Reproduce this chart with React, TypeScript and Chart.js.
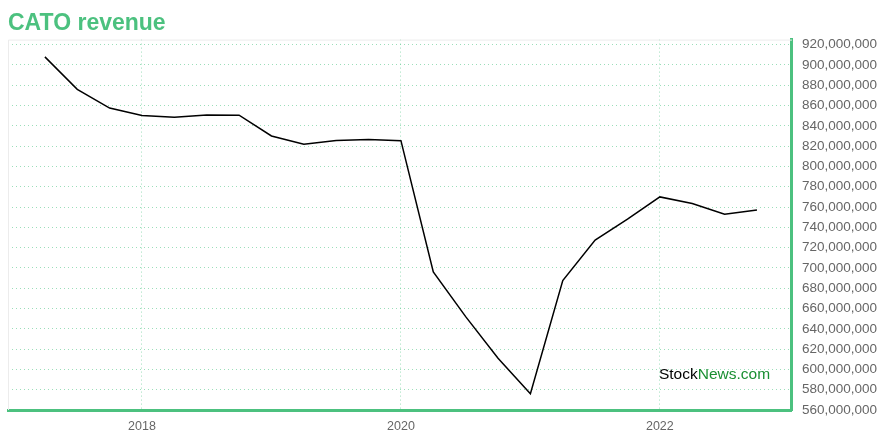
import React, { useEffect, useRef } from "react";
import { Chart, registerables } from "chart.js";

Chart.register(...registerables);

// Quarter-end dates as decimal years
const quarters: number[] = [
  2017.25, 2017.5, 2017.75, 2018.0, 2018.25, 2018.5, 2018.75, 2019.0,
  2019.25, 2019.5, 2019.75, 2020.0, 2020.25, 2020.5, 2020.75, 2021.0,
  2021.25, 2021.5, 2021.75, 2022.0, 2022.25, 2022.5, 2022.75,
];

// Revenue (trailing), in USD
const revenue: number[] = [
  908e6, 876e6, 857.5e6, 850.3e6, 848.4e6, 850.6e6, 850.5e6, 830e6,
  822e6, 825.5e6, 826.5e6, 825.4e6, 696e6, 652e6, 611e6, 576e6,
  687.5e6, 727.5e6, 748e6, 770e6, 763.5e6, 753e6, 757e6,
];

const xTickYears: number[] = [2018, 2020, 2022];
const title = "CATO revenue";

const GREEN = "#4cc17f";
const GRID = "rgba(90,200,140,0.6)";
const FONT = "'Liberation Sans', Arial, sans-serif";

const watermark = {
  id: "watermark",
  afterDraw(chart: any) {
    const { ctx, chartArea } = chart;
    ctx.save();
    ctx.strokeStyle = "#ececec";
    ctx.lineWidth = 1;
    ctx.beginPath();
    ctx.moveTo(chartArea.left + 0.5, chartArea.bottom);
    ctx.lineTo(chartArea.left + 0.5, chartArea.top + 0.5);
    ctx.lineTo(chartArea.right, chartArea.top + 0.5);
    ctx.stroke();
    ctx.font = "15.5px " + FONT;
    ctx.textBaseline = "alphabetic";
    ctx.textAlign = "left";
    const x0 = chartArea.right - 133;
    const y0 = chartArea.bottom - 31;
    ctx.fillStyle = "#000000";
    ctx.fillText("Stock", x0, y0);
    const w = ctx.measureText("Stock").width;
    ctx.fillStyle = "#1a8f32";
    ctx.fillText("News.com", x0 + w, y0);
    ctx.restore();
  },
};

export default function App() {
  const ref = useRef<HTMLCanvasElement | null>(null);

  useEffect(() => {
    if (!ref.current) return;
    const chart = new Chart(ref.current, {
      type: "line",
      data: {
        datasets: [
          {
            data: quarters.map((q, i) => ({ x: q, y: revenue[i] })),
            borderColor: "#000000",
            borderWidth: 1.5,
            pointRadius: 0,
            tension: 0,
            fill: false,
          },
        ],
      },
      options: {
        animation: false,
        responsive: true,
        maintainAspectRatio: false,
        layout: { padding: { left: 8, right: -7, top: 10, bottom: -3 } },
        plugins: {
          legend: { display: false },
          tooltip: { enabled: false },
          title: {
            display: true,
            text: title,
            align: "start",
            color: GREEN,
            font: { size: 23, weight: "bold", family: FONT },
            padding: { top: 0, bottom: 2 },
          },
        },
        scales: {
          x: {
            type: "linear",
            min: 2016.965,
            max: 2023.02,
            afterBuildTicks: (axis: any) => {
              axis.ticks = xTickYears.map((v) => ({ value: v }));
            },
            ticks: {
              color: "#666666",
              font: { size: 12.5, family: FONT },
              padding: 9,
              maxRotation: 0,
              callback: (v: any) => String(v),
            },
            grid: { color: GRID, drawTicks: false },
            border: { color: GREEN, width: 3, dash: [1, 3] },
          },
          y: {
            position: "right",
            min: 560e6,
            max: 925e6,
            afterBuildTicks: (axis: any) => {
              const t: any[] = [];
              for (let v = 560e6; v <= 920e6; v += 20e6) t.push({ value: v });
              axis.ticks = t;
            },
            ticks: {
              color: "#666666",
              font: { size: 13.5, family: FONT },
              padding: 10,
              callback: (v: any) => Number(v).toLocaleString("en-US"),
            },
            grid: { color: GRID, drawTicks: false },
            border: { color: GREEN, width: 3, dash: [1, 3] },
          },
        },
      } as any,
      plugins: [watermark],
    });
    return () => chart.destroy();
  }, []);

  return (
    <div style={{ position: "fixed", left: 0, top: 0, width: 880, height: 440, background: "#fff" }}>
      <canvas ref={ref} />
    </div>
  );
}
